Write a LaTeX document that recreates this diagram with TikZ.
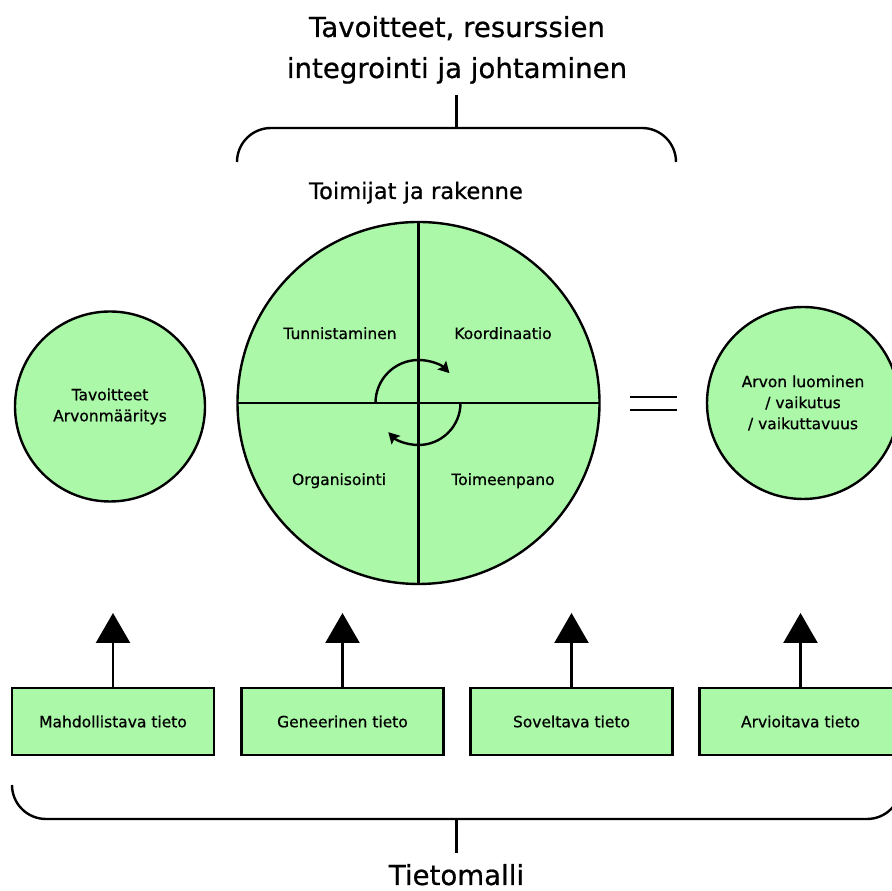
\documentclass[tikz,border=0pt]{standalone}
\usepackage{fontspec}
\setmainfont[FakeBold=0.7]{DejaVu Sans}
\usetikzlibrary{arrows.meta}
\definecolor{lgreen}{RGB}{170,248,168}
\begin{document}
\begin{tikzpicture}[x=1pt,y=1pt,
  line width=2.4pt,
  small/.style={font=\fontsize{15.5}{21}\selectfont},
  big/.style={font=\fontsize{27.6}{33}\selectfont},
  mid/.style={font=\fontsize{22.6}{27}\selectfont},
  gcircle/.style={circle,draw=black,fill=lgreen,inner sep=0pt,outer sep=0pt,align=center,small},
  infobox/.style={rectangle,draw=black,fill=lgreen,minimum width=202pt,minimum height=67pt,inner sep=0pt,outer sep=0pt,small},
  uparrow/.style={-{Triangle[length=30pt,width=34pt]}},
  rotarrow/.style={-{Stealth[length=11pt,width=12pt,inset=2pt]}},
  bracket/.style={rounded corners=34pt}
]
\useasboundingbox (0,0) rectangle (892,891);
\fill[white] (0,0) rectangle (892,891);
\clip (0,0) rectangle (892,891);

% title
\node[big,anchor=base] (title1) at (457,854) {Tavoitteet, resurssien};
\node[big,anchor=base] (title2) at (457,813) {integrointi ja johtaminen};
\coordinate (topstem) at (456.5,796);
\coordinate (topmid) at (456.5,763);
\draw[bracket] (237,729) -- (237,763) -- (676,763) -- (676,729);
\draw (topmid) -- (topstem);

\node[mid,anchor=base] (sub) at (416,692) {Toimijat ja rakenne};

% big circle
\node[gcircle,minimum size=362pt] (bigc) at (418.5,488) {};
\draw (bigc.north) -- (bigc.south);
\draw (bigc.west) -- (bigc.east);
\node[small,anchor=base] (q1) at (340,552) {Tunnistaminen};
\node[small,anchor=base] (q2) at (503,552) {Koordinaatio};
\node[small,anchor=base] (q3) at (339,406) {Organisointi};
\node[small,anchor=base] (q4) at (503,406) {Toimeenpano};
\draw[rotarrow] (bigc.center) ++(180:43) arc[start angle=180,end angle=44,radius=43];
\draw[rotarrow] (bigc.center) ++(0:42) arc[start angle=0,end angle=-136,radius=42];

% side circles
\node[gcircle,minimum size=190pt] (goal) at (110,484.5) {Tavoitteet\\Arvonmääritys};
\node[gcircle,minimum size=192pt] (value) at (803,488) {Arvon luominen\\/ vaikutus\\/ vaikuttavuus};

% equals
\draw[line width=2.2pt] (630,494) -- (677,494);
\draw[line width=2.2pt] (630,481) -- (677,481);

% boxes
\node[infobox] (b1) at (113,169.5) {Mahdollistava tieto};
\node[infobox] (b2) at (342.5,169.5) {Geneerinen tieto};
\node[infobox] (b3) at (571.5,169.5) {Soveltava tieto};
\node[infobox] (b4) at (800.5,169.5) {Arvioitava tieto};
\coordinate (t1) at (113,278);
\coordinate (t2) at (342.5,278);
\coordinate (t3) at (571.5,278);
\coordinate (t4) at (800.5,278);
\draw[uparrow] (b1.north) -- (t1);
\draw[uparrow] (b2.north) -- (t2);
\draw[uparrow] (b3.north) -- (t3);
\draw[uparrow] (b4.north) -- (t4);

% bottom bracket
\coordinate (botmid) at (456.5,72);
\coordinate (botstem) at (456.5,38);
\draw[bracket] (12,106) -- (12,72) -- (901,72) -- (901,106);
\draw (botmid) -- (botstem);
\node[big,anchor=base] (tm) at (456.5,6) {Tietomalli};
\end{tikzpicture}
\end{document}
